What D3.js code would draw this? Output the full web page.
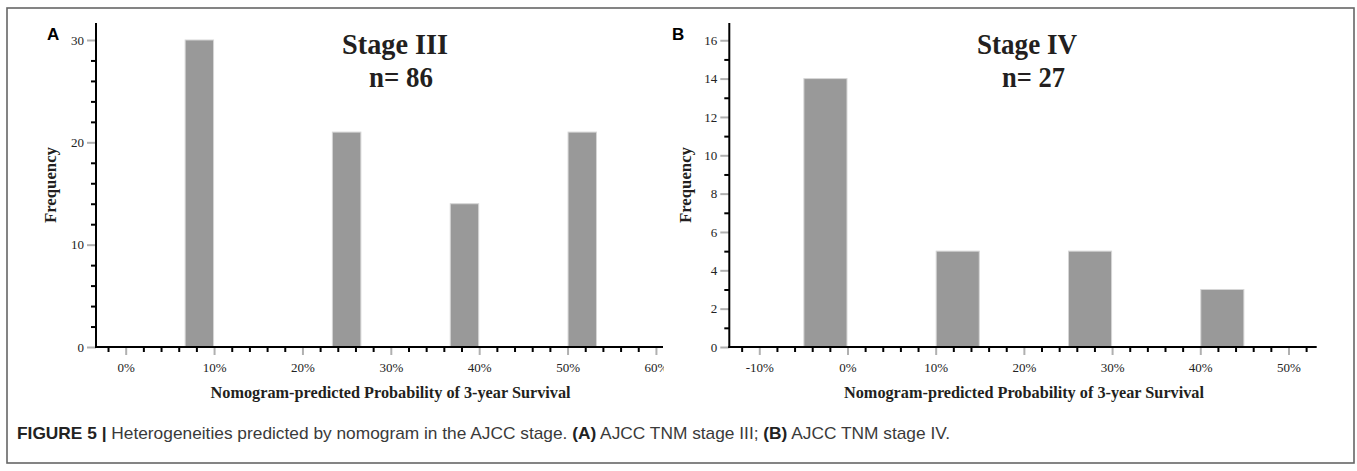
<!DOCTYPE html>
<html>
<head>
<meta charset="utf-8">
<script src="https://cdn.jsdelivr.net/npm/d3@7"></script>
<style>
  html, body { margin: 0; padding: 0; background: #fff; }
  svg { display: block; }
</style>
</head>
<body>
<svg id="chart" width="1357" height="471"></svg>
<script>
// ---- data ----
const panelLabels = ["A", "B"];
const titles = ["Stage III", "Stage IV"];
const nLabels = ["n= 86", "n= 27"];
const yTitle = "Frequency";
const xTitle = "Nomogram-predicted Probability of 3-year Survival";

// Panel A histogram bins (proportions) and counts
const binsA = [[0.0667, 0.1000], [0.2333, 0.2667], [0.3667, 0.4000], [0.5000, 0.5333]];
const countsA = [30, 21, 14, 21];
const xTicksA = [0, 0.1, 0.2, 0.3, 0.4, 0.5, 0.6];
const yTicksA = [0, 10, 20, 30];

// Panel B
const binsB = [[-0.05, 0.00], [0.10, 0.15], [0.25, 0.30], [0.40, 0.45]];
const countsB = [14, 5, 5, 3];
const xTicksB = [-0.1, 0, 0.1, 0.2, 0.3, 0.4, 0.5];
const yTicksB = [0, 2, 4, 6, 8, 10, 12, 14, 16];

const captionBold = "FIGURE 5 |";
const captionParts = [
  {t: " Heterogeneities predicted by nomogram in the AJCC stage. ", b: false},
  {t: "(A)", b: true},
  {t: " AJCC TNM stage III; ", b: false},
  {t: "(B)", b: true},
  {t: " AJCC TNM stage IV.", b: false}
];

// ---- drawing ----
const svg = d3.select("#chart");
const serif = "'Liberation Serif', 'Times New Roman', serif";
const sans = "'Liberation Sans', Arial, sans-serif";

svg.append("rect").attr("x", 7).attr("y", 8).attr("width", 1347).attr("height", 455)
  .attr("fill", "none").attr("stroke", "#666").attr("stroke-width", 1.6);

svg.append("defs").append("clipPath").attr("id", "clipA")
  .append("rect").attr("x", 0).attr("y", 0).attr("width", 664).attr("height", 471);

const panels = [
  {
    label: panelLabels[0], labelX: 47, title: titles[0], n: nLabels[0],
    titleX: 395, nX: 401, titleW: 106, nW: 64,
    bins: binsA, counts: countsA, xTicks: xTicksA, yTicks: yTicksA,
    xDomain: [-0.0336, 0.608], xRange: [96, 663],
    yDomain: [0, 31.66], minorX: 0.02, minorY: 2,
    yTitleX: 51, xTitleX: 390.6, clip: "url(#clipA)"
  },
  {
    label: panelLabels[1], labelX: 672, title: titles[1], n: nLabels[1],
    titleX: 1027, nX: 1033.5, titleW: 100, nW: 63,
    bins: binsB, counts: countsB, xTicks: xTicksB, yTicks: yTicksB,
    xDomain: [-0.134, 0.532], xRange: [729.3, 1316.7],
    yDomain: [0, 16.9], minorX: 0.02, minorY: 1,
    yTitleX: 686, xTitleX: 1024, clip: null
  }
];

const y0 = 347, yTop = 23;

panels.forEach(p => {
  const x = d3.scaleLinear().domain(p.xDomain).range(p.xRange);
  const y = d3.scaleLinear().domain(p.yDomain).range([y0, yTop]);
  const g = svg.append("g");

  // bars
  g.selectAll("rect.bar").data(p.bins.map((b, i) => ({b, c: p.counts[i]})))
    .enter().append("rect").attr("class", "bar")
    .attr("x", d => x(d.b[0]) + 0.5)
    .attr("width", d => x(d.b[1]) - x(d.b[0]) - 1)
    .attr("y", d => y(d.c))
    .attr("height", d => y(0) - y(d.c))
    .attr("fill", "#999999")
    .attr("stroke", "#d6d6d6").attr("stroke-width", 1);

  // minor ticks
  const minorXVals = d3.range(Math.ceil(p.xDomain[0] / p.minorX), Math.floor(p.xDomain[1] / p.minorX) + 1)
    .map(k => +(k * p.minorX).toFixed(4))
    .filter(v => !p.xTicks.some(t => Math.abs(t - v) < 1e-6));
  const minorYVals = d3.range(1, Math.floor(p.yDomain[1] / p.minorY) + 1)
    .map(k => k * p.minorY)
    .filter(v => !p.yTicks.includes(v));

  const mx = g.append("g").attr("transform", `translate(0,${y0})`)
    .call(d3.axisBottom(x).tickValues(minorXVals).tickSize(5).tickFormat(""));
  mx.select(".domain").remove();
  mx.selectAll("line").attr("stroke", "#000").attr("stroke-width", 2);

  const my = g.append("g").attr("transform", `translate(${p.xRange[0]},0)`)
    .call(d3.axisLeft(y).tickValues(minorYVals).tickSize(5).tickFormat(""));
  my.select(".domain").remove();
  my.selectAll("line").attr("stroke", "#000").attr("stroke-width", 2);

  // major ticks
  const ax = g.append("g").attr("transform", `translate(0,${y0})`)
    .call(d3.axisBottom(x).tickValues(p.xTicks).tickSize(8).tickPadding(8)
      .tickFormat(d => Math.round(d * 100) + "%"));
  ax.select(".domain").remove();
  ax.selectAll("line").attr("stroke", "#b0b0b0").attr("stroke-width", 2);
  ax.selectAll("text").attr("font-family", serif).attr("font-size", 13).attr("fill", "#222");
  if (p.clip) ax.attr("clip-path", null).selectAll("text").attr("clip-path", null);
  if (p.clip) {
    // clip the labels to the panel's right edge (as in the source image)
    const wrap = g.append("g").attr("clip-path", p.clip);
    wrap.node().appendChild(ax.node());
  }

  const ay = g.append("g").attr("transform", `translate(${p.xRange[0]},0)`)
    .call(d3.axisLeft(y).tickValues(p.yTicks).tickSize(9).tickPadding(3));
  ay.select(".domain").remove();
  ay.selectAll("line").attr("stroke", "#b0b0b0").attr("stroke-width", 2);
  ay.selectAll("text").attr("font-family", serif).attr("font-size", 13).attr("fill", "#222");

  // axis lines
  g.append("line").attr("x1", p.xRange[0]).attr("x2", p.xRange[0])
    .attr("y1", yTop).attr("y2", y0 + 1).attr("stroke", "#000").attr("stroke-width", 2);
  g.append("line").attr("x1", p.xRange[0] - 1).attr("x2", p.xRange[1])
    .attr("y1", y0).attr("y2", y0).attr("stroke", "#000").attr("stroke-width", 2);

  // panel letter
  g.append("text").attr("x", p.labelX).attr("y", 40).text(p.label)
    .attr("font-family", sans).attr("font-weight", "bold").attr("font-size", 17).attr("fill", "#000");

  // titles
  g.append("text").attr("x", p.titleX).attr("y", 54).attr("text-anchor", "middle")
    .attr("font-family", serif).attr("font-weight", "bold").attr("font-size", 29)
    .attr("textLength", p.titleW).attr("lengthAdjust", "spacingAndGlyphs")
    .attr("fill", "#231f20").text(p.title);
  g.append("text").attr("x", p.nX).attr("y", 87).attr("text-anchor", "middle")
    .attr("font-family", serif).attr("font-weight", "bold").attr("font-size", 29)
    .attr("textLength", p.nW).attr("lengthAdjust", "spacingAndGlyphs")
    .attr("fill", "#231f20").text(p.n);

  // y title
  g.append("text").attr("transform", `translate(${p.yTitleX + 5},185) rotate(-90)`)
    .attr("text-anchor", "middle").attr("font-family", serif).attr("font-weight", "bold")
    .attr("font-size", 16).attr("textLength", 76).attr("lengthAdjust", "spacingAndGlyphs")
    .attr("fill", "#231f20").text(yTitle);

  // x title
  g.append("text").attr("x", p.xTitleX).attr("y", 398).attr("text-anchor", "middle")
    .attr("font-family", serif).attr("font-weight", "bold").attr("font-size", 16.5)
    .attr("textLength", 360).attr("lengthAdjust", "spacingAndGlyphs")
    .attr("fill", "#231f20").text(xTitle);
});

// caption
const cap = svg.append("text").attr("x", 17).attr("y", 439)
  .attr("font-family", sans).attr("font-size", 17).attr("fill", "#3a3a3a")
  .attr("textLength", 933).attr("lengthAdjust", "spacingAndGlyphs");
cap.append("tspan").attr("font-weight", "bold").attr("fill", "#222").text(captionBold);
captionParts.forEach(c => {
  cap.append("tspan").attr("font-weight", c.b ? "bold" : "normal")
    .attr("fill", c.b ? "#222" : "#3a3a3a").text(c.t);
});
</script>
</body>
</html>
